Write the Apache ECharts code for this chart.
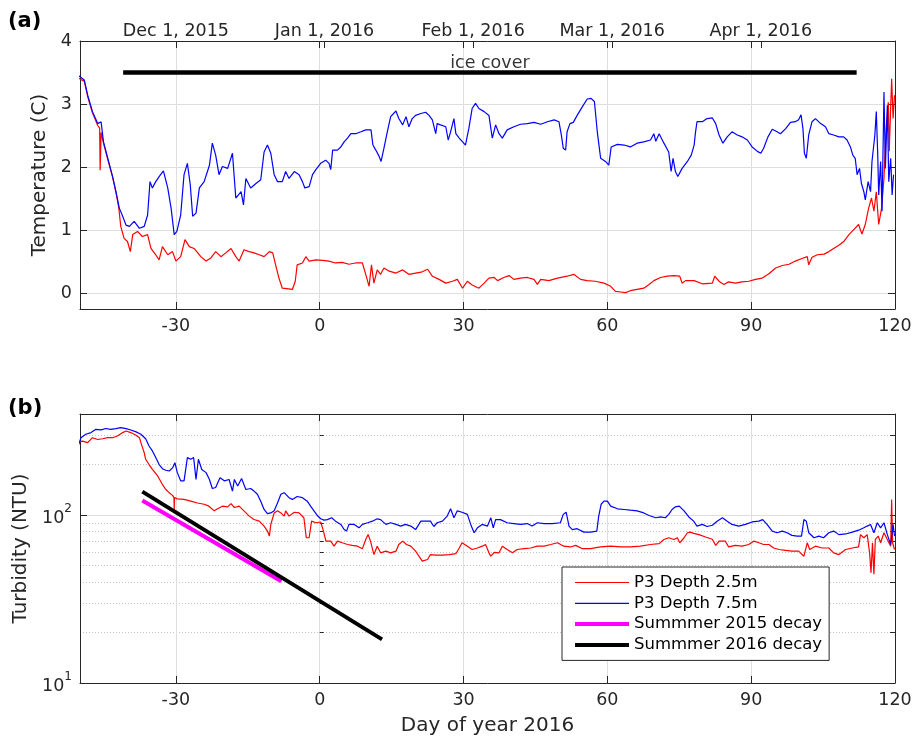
<!DOCTYPE html>
<html>
<head>
<meta charset="utf-8">
<script src="https://cdn.jsdelivr.net/npm/echarts@6/dist/echarts.min.js"></script>
<style>
  html, body { margin: 0; padding: 0; background: #ffffff; }
  #chart { width: 918px; height: 737px; }
</style>
</head>
<body>
<div id="chart"></div>
<script>
// Water temperature at P3, [day of year 2016, degrees C]
const temp25 = [
  [-50.5,3.42],[-49.1,3.36],[-48.4,3.12],[-47.4,2.86],[-46.3,2.66],[-45.9,2.62],[-45.8,1.95],[-45.6,2.55],
  [-45.1,2.38],[-44.2,2.12],[-43.2,1.84],[-42.5,1.60],[-41.9,1.35],[-41.5,1.06],[-40.8,0.87],[-40.1,0.82],
  [-39.5,0.66],[-39.0,0.93],[-38.0,0.98],[-37.0,0.90],[-35.9,0.93],[-35.2,0.71],[-34.2,0.61],[-33.5,0.53],
  [-32.8,0.74],[-31.7,0.61],[-30.7,0.66],[-30.0,0.51],[-29.0,0.58],[-28.1,0.85],[-27.2,0.74],[-26.2,0.71],
  [-24.8,0.58],[-23.7,0.51],[-22.7,0.56],[-21.7,0.66],[-20.6,0.58],[-19.6,0.64],[-18.5,0.71],[-17.5,0.58],
  [-16.8,0.51],[-15.8,0.69],[-14.7,0.66],[-13.7,0.64],[-12.6,0.61],[-11.6,0.58],[-10.5,0.66],[-9.8,0.64],
  [-9.2,0.45],[-8.5,0.24],[-7.8,0.08],[-6.5,0.07],[-5.7,0.06],[-5.1,0.19],[-4.7,0.45],[-3.6,0.48],
  [-2.9,0.58],[-2.2,0.51],[-0.8,0.53],[0.6,0.52],[1.9,0.51],[3.3,0.48],[4.7,0.49],[6.1,0.46],
  [7.5,0.48],[8.9,0.48],[9.6,0.30],[10.3,0.11],[10.8,0.45],[11.3,0.16],[12.0,0.37],[12.7,0.30],
  [13.4,0.40],[14.5,0.35],[15.9,0.32],[17.3,0.37],[18.6,0.30],[20.0,0.32],[21.4,0.34],[22.5,0.38],
  [23.5,0.27],[24.9,0.22],[26.3,0.16],[27.7,0.19],[28.7,0.22],[29.8,0.08],[30.8,0.19],[31.8,0.13],
  [33.2,0.08],[34.3,0.16],[35.3,0.24],[36.4,0.25],[37.1,0.20],[38.4,0.25],[39.5,0.28],[40.5,0.22],
  [41.9,0.24],[43.3,0.25],[44.7,0.22],[45.4,0.14],[46.1,0.22],[47.8,0.20],[49.6,0.24],[51.6,0.27],
  [53.0,0.30],[54.4,0.22],[55.8,0.20],[57.5,0.19],[59.3,0.16],[60.7,0.11],[61.7,0.03],[62.8,0.02],
  [63.8,0.01],[64.8,0.04],[66.2,0.06],[67.6,0.08],[68.7,0.14],[69.7,0.20],[71.1,0.25],[72.5,0.27],
  [73.9,0.28],[75.1,0.27],[75.6,0.16],[76.3,0.20],[78.1,0.20],[79.8,0.15],[81.9,0.16],[82.4,0.27],
  [83.3,0.19],[84.3,0.14],[85.3,0.18],[86.7,0.16],[88.1,0.18],[89.5,0.19],[90.9,0.22],[92.3,0.24],
  [93.7,0.31],[95.1,0.40],[96.5,0.44],[97.9,0.46],[99.2,0.51],[100.6,0.55],[101.7,0.58],[102.0,0.45],
  [102.7,0.57],[103.8,0.61],[105.2,0.62],[106.2,0.66],[107.2,0.71],[108.3,0.76],[109.3,0.82],[110.4,0.93],
  [111.4,1.01],[112.4,1.09],[113.1,0.94],[113.8,1.09],[114.5,1.35],[115.1,1.51],[115.6,1.30],[116.1,1.61],
  [116.6,1.09],[117.2,1.35],[117.7,1.82],[118.1,2.55],[118.6,3.03],[118.8,2.25],[119.3,3.40],[119.6,2.77],
  [119.9,3.14]
];
const temp75 = [
  [-50.5,3.46],[-49.1,3.38],[-48.4,3.14],[-47.4,2.88],[-46.3,2.69],[-45.6,2.72],[-45.1,2.40],[-44.2,2.14],
  [-43.2,1.85],[-42.5,1.61],[-41.8,1.35],[-41.1,1.22],[-40.4,1.08],[-39.7,1.06],[-38.7,1.14],[-37.6,1.03],
  [-36.6,1.06],[-35.9,1.24],[-35.4,1.77],[-34.9,1.67],[-34.2,1.77],[-33.5,1.85],[-32.6,1.94],[-31.7,1.67],
  [-31.0,1.35],[-30.35,0.93],[-29.8,0.98],[-29.0,1.24],[-28.3,1.88],[-27.6,2.06],[-27.0,1.72],[-26.5,1.22],
  [-25.8,1.27],[-25.1,1.67],[-24.1,1.77],[-23.0,2.03],[-22.4,2.38],[-21.7,2.19],[-21.0,1.88],[-20.3,2.01],
  [-19.2,1.98],[-18.2,2.22],[-17.5,1.51],[-16.4,1.61],[-15.9,1.40],[-15.4,1.82],[-14.4,1.67],[-13.3,1.74],
  [-12.3,1.80],[-11.6,2.24],[-10.9,2.35],[-10.2,2.22],[-9.5,1.88],[-8.8,1.77],[-7.8,1.77],[-7.1,1.93],
  [-6.4,1.82],[-5.3,1.93],[-4.3,1.88],[-3.6,1.77],[-3.1,1.67],[-2.2,1.69],[-1.5,1.88],[-0.8,1.96],
  [0.2,2.06],[1.25,2.11],[1.95,2.06],[2.3,1.96],[2.7,2.27],[3.7,2.27],[4.4,2.32],[5.1,2.40],
  [5.8,2.46],[6.5,2.53],[7.5,2.53],[8.6,2.56],[9.6,2.59],[10.7,2.59],[11.1,2.35],[11.7,2.27],
  [12.4,2.17],[12.8,2.09],[13.4,2.30],[14.1,2.56],[14.8,2.80],[15.9,2.89],[16.5,2.77],[17.3,2.67],
  [18.0,2.80],[18.6,2.64],[19.3,2.77],[20.0,2.82],[21.1,2.85],[22.1,2.87],[22.8,2.82],[23.5,2.75],
  [24.2,2.53],[24.5,2.69],[25.2,2.67],[26.3,2.64],[26.8,2.43],[27.3,2.56],[28.0,2.77],[28.4,2.53],
  [29.1,2.46],[29.8,2.40],[30.4,2.35],[31.1,2.61],[31.8,2.93],[32.5,3.01],[33.2,2.93],[34.3,2.88],
  [35.3,2.82],[35.7,2.82],[36.0,2.46],[36.7,2.67],[37.4,2.53],[38.1,2.46],[39.1,2.59],[40.5,2.64],
  [41.9,2.68],[43.3,2.69],[44.7,2.71],[46.1,2.68],[47.5,2.72],[48.9,2.75],[49.9,2.72],[50.4,2.51],
  [50.8,2.30],[51.3,2.27],[51.6,2.56],[52.2,2.69],[52.9,2.71],[53.7,2.82],[54.8,2.96],[55.8,3.08],
  [56.6,3.09],[57.3,3.04],[57.9,2.56],[58.6,2.14],[59.6,2.09],[60.3,2.03],[60.8,2.32],[62.1,2.36],
  [63.5,2.35],[64.8,2.32],[66.2,2.38],[67.6,2.40],[69.0,2.43],[69.7,2.53],[70.1,2.41],[70.8,2.53],
  [71.8,2.38],[72.8,2.24],[73.3,1.93],[73.7,2.14],[74.2,1.93],[74.7,1.85],[75.6,1.98],[76.7,2.09],
  [77.5,2.19],[78.1,2.35],[78.4,2.56],[78.7,2.72],[79.8,2.72],[80.8,2.77],[81.9,2.78],[82.6,2.69],
  [83.3,2.51],[84.1,2.38],[85.0,2.48],[86.0,2.56],[87.1,2.51],[88.1,2.48],[89.2,2.43],[90.2,2.32],
  [91.3,2.25],[92.0,2.22],[92.6,2.30],[93.5,2.48],[94.4,2.60],[95.4,2.56],[96.1,2.53],[97.2,2.61],
  [98.2,2.71],[99.2,2.72],[99.9,2.75],[100.4,2.83],[100.8,2.61],[101.1,2.22],[101.5,2.14],[102.0,2.51],
  [102.7,2.72],[103.4,2.77],[104.5,2.69],[105.5,2.64],[106.2,2.53],[107.2,2.51],[108.3,2.48],[109.3,2.48],
  [110.0,2.43],[110.7,2.32],[111.2,2.19],[111.7,2.14],[112.1,1.88],[112.6,1.98],[113.0,1.74],[113.5,1.61],
  [113.8,1.48],[114.4,1.77],[114.9,1.61],[115.2,2.09],[115.8,2.51],[116.1,2.88],[116.4,2.19],[116.6,1.56],
  [117.0,2.09],[117.3,1.30],[117.7,3.19],[118.0,1.98],[118.4,2.98],[118.7,1.77],[119.1,2.14],[119.4,1.56],
  [119.7,1.88]
];

// Turbidity at P3, [day of year 2016, NTU]
const turb25 = [
  [-50.5,270],[-49.5,276],[-48.4,270],[-47.4,289],[-46.3,282],[-45.3,285],[-44.2,289],[-43.2,289],
  [-42.2,296],[-41.1,310],[-40.4,317],[-39.4,310],[-38.3,299],[-37.6,289],[-37.3,270],[-36.9,264],
  [-36.6,235],[-36.3,215],[-35.6,200],[-34.9,187],[-33.8,171],[-32.8,152],[-32.1,142],[-31.4,136],
  [-30.7,131],[-30.4,127],[-30.35,106],[-30.3,127],[-29.7,125],[-28.3,124],[-26.9,121],[-25.5,118],
  [-24.1,116],[-23.1,113],[-22.0,106],[-21.3,109],[-20.3,113],[-19.2,112],[-18.5,117],[-17.8,111],
  [-16.8,113],[-15.8,106],[-14.7,98.6],[-13.7,94.2],[-12.6,92],[-11.6,85.9],[-10.9,80.3],[-10.5,75],
  [-10.2,87.9],[-9.5,103],[-8.8,106],[-8.1,103],[-7.4,98.6],[-7.1,106],[-6.4,98.6],[-5.3,104],
  [-4.3,103],[-3.3,96.4],[-2.8,73.3],[-2.2,73.3],[-1.7,92],[-0.8,90],[0.2,91],[0.7,82],
  [1.3,70],[2.3,70],[3.0,65.3],[3.7,70],[4.7,68.4],[5.8,66.8],[6.8,66],[7.9,65.3],
  [8.9,63.1],[9.6,71.6],[10.1,76.7],[10.6,70],[11.3,58.2],[12.0,65.3],[12.7,59.6],[13.8,61],
  [14.8,59.6],[15.9,61],[16.5,66.8],[17.3,70],[18.1,66.8],[19.0,65.3],[20.0,61],[20.7,56.9],
  [21.4,53.2],[22.5,54.4],[23.1,58.2],[24.2,57.8],[25.6,57.8],[27.0,58.2],[28.4,58.9],[29.1,63.7],
  [29.7,68.4],[30.8,65.3],[31.8,62.4],[32.9,63.7],[33.9,65.3],[34.6,66.8],[35.3,59.6],[35.7,56.9],
  [36.4,60],[37.4,59.6],[38.1,65.3],[39.1,62.4],[40.2,59.6],[41.2,62.4],[42.6,63.1],[44.0,63.7],
  [45.4,65.3],[46.8,65.3],[48.2,66.8],[49.6,68.4],[50.9,65.3],[52.3,64.6],[53.4,66],[54.8,63.1],
  [56.5,63.1],[58.6,64.6],[60.7,65.3],[62.8,64.6],[64.8,64.6],[66.9,65.3],[69.0,66.8],[70.8,67.6],
  [71.8,71.6],[72.8,73.3],[73.9,71.6],[74.6,73.3],[75.1,68.4],[76.0,73.3],[76.7,78.5],[77.3,79.2],
  [78.0,77.8],[79.1,76.5],[80.5,74],[81.9,71.8],[82.6,66],[83.3,70],[84.6,70],[85.3,64.6],
  [86.7,66],[88.1,65.3],[89.5,66.8],[90.6,70],[91.6,68.4],[92.6,66.8],[93.7,66.8],[94.7,63.7],
  [95.8,62.4],[97.2,61.7],[98.5,61],[99.9,61],[101.0,56.9],[101.7,68.4],[102.2,62.4],[103.4,65.3],
  [104.8,63.7],[106.2,63.7],[107.2,59.6],[108.3,58.2],[109.7,62.4],[111.1,63.7],[112.4,64.6],[112.8,76.5],
  [113.5,73.3],[114.2,76.5],[114.7,59.6],[115.0,45.3],[115.3,68.4],[115.6,44.4],[115.9,71.6],[116.5,75],
  [117.0,68.4],[117.7,78.5],[118.4,71.6],[119.1,65.3],[119.3,124],[119.5,68.4],[119.9,62.4]
];
const turb75 = [
  [-50.5,252],[-49.8,289],[-48.8,303],[-47.7,310],[-46.7,324],[-45.6,322],[-44.6,328],[-43.6,324],
  [-42.5,327],[-41.5,332],[-40.4,327],[-39.4,321],[-38.3,313],[-37.3,303],[-36.3,285],[-35.6,258],
  [-34.9,241],[-34.2,220],[-33.5,200],[-32.8,189],[-32.1,185],[-31.4,183],[-30.7,191],[-30.2,205],
  [-29.7,179],[-29.0,160],[-28.3,160],[-27.6,220],[-26.9,215],[-26.3,220],[-25.8,163],[-25.3,215],
  [-24.6,187],[-23.7,179],[-23.0,163],[-22.4,144],[-21.7,146],[-20.8,167],[-19.9,160],[-18.9,163],
  [-18.2,139],[-17.8,163],[-17.1,149],[-16.3,165],[-15.4,142],[-14.4,144],[-13.7,139],[-13.0,133],
  [-12.3,121],[-11.6,108],[-10.9,102],[-10.2,103],[-9.5,106],[-8.8,118],[-8.1,133],[-7.4,136],
  [-6.4,127],[-5.7,124],[-4.7,129],[-3.6,127],[-2.6,121],[-1.9,113],[-1.2,106],[-0.5,99.5],
  [0.2,95.1],[0.9,93.4],[1.6,94],[2.5,96.4],[3.3,92],[4.4,88],[5.1,82.1],[5.6,80.3],
  [6.1,88],[7.2,88],[8.2,84],[8.9,88],[10.0,90],[11.0,92],[12.0,95],[12.7,94],
  [13.8,88],[14.8,90],[15.9,88],[16.9,86],[17.9,88],[19.0,86],[20.0,82],[21.1,92],
  [22.1,92],[23.1,92],[23.8,85.5],[24.5,90],[25.6,92],[26.6,98.6],[27.3,109],[28.0,96.4],
  [28.7,106],[29.7,104],[30.8,101],[31.5,88],[32.2,78.5],[32.9,84],[33.9,88],[35.0,86],
  [35.7,96.4],[36.2,84],[36.7,94],[37.7,94],[39.1,90],[40.5,89],[41.9,88],[43.3,89],
  [44.3,86],[45.4,90],[46.8,89],[48.5,89],[50.2,90],[50.8,101],[51.4,104],[52.0,86],
  [52.7,82],[53.7,83],[55.1,79.2],[56.5,79.2],[57.8,80.3],[58.2,98.6],[58.7,116],[59.3,121],
  [60.0,121],[60.7,113],[62.1,109],[63.5,108],[64.8,107],[66.2,106],[67.6,103],[68.7,99.5],
  [70.1,96.4],[71.1,97.5],[72.1,96.4],[72.8,101],[73.5,108],[74.2,112],[75.0,113],[76.0,106],
  [77.0,97.5],[78.0,92],[78.7,86],[79.8,88],[80.8,85.5],[81.9,87],[82.9,92],[84.0,96.4],
  [85.0,92],[86.0,88],[87.4,86],[88.8,88],[90.2,91],[91.6,92],[92.4,94],[93.3,88],
  [94.4,80.3],[95.4,78.5],[96.5,80.3],[97.5,78.5],[98.5,75.7],[99.6,75],[100.5,75],[101.0,94],
  [101.5,92],[102.0,78.5],[103.1,73.3],[104.1,75],[105.1,73.3],[106.2,78.5],[107.2,80.3],[108.3,76.5],
  [109.7,77.2],[111.1,79.2],[112.4,81.3],[113.5,84],[114.2,86],[114.9,88],[115.6,78.5],[116.3,90],
  [117.0,84],[117.7,90],[118.4,76.5],[119.1,66.8],[119.6,88],[119.9,75]
];

// Fitted exponential decay lines, end points [day, NTU]
const decay2015 = [[-37, 122], [-8, 40.4]];
const decay2016 = [[-37, 138], [13, 18.2]];

// Ice cover period (days) drawn at this temperature level
const iceDays = [-41, 112];
const iceLevel = 3.5;

// Axis ticks and labels
const dayTicks = [-30, 0, 30, 60, 90, 120];
const dateTickDays = [-30, 1, 32, 61, 92];
const dateTickLabels = ['Dec 1, 2015', 'Jan 1, 2016', 'Feb 1, 2016', 'Mar 1, 2016', 'Apr 1, 2016'];
const tempTicks = [0, 1, 2, 3, 4];
const turbMajorTicks = [10, 100];
const turbMinorTicks = [20, 30, 40, 50, 60, 70, 80, 90, 200, 300];

const FONT = 'DejaVu Sans';
const INK = '#262626';
const GRID = '#dedede';
const THIN = 1.2;
const THICK = 4;

const chart = echarts.init(document.getElementById('chart'), null, { renderer: 'canvas' });

function axisBase(extra) {
  return Object.assign({
    axisLine: { show: true, onZero: false, lineStyle: { color: INK, width: 1 } },
    axisTick: { show: false },
    axisLabel: { show: false },
    splitLine: { show: false },
    minorTick: { show: false },
    minorSplitLine: { show: false }
  }, extra);
}
function ticks(values, len) {
  return { show: true, inside: true, length: len || 7, customValues: values, lineStyle: { color: INK, width: 1 } };
}
const tickLabel = { fontFamily: FONT, fontSize: 17.5, color: INK };

const iceBar = iceDays.map(d => [d, iceLevel]);
const iceMid = [[(iceDays[0] + iceDays[1]) / 2, iceLevel]];

const option = {
  animation: false,
  backgroundColor: '#ffffff',
  textStyle: { fontFamily: FONT },
  grid: [
    { left: 80, right: 23, top: 41, height: 268 },
    { left: 80, right: 23, top: 414, height: 269 }
  ],
  xAxis: [
    axisBase({
      gridIndex: 0, type: 'value', min: -50, max: 120, position: 'bottom',
      axisTick: ticks(dayTicks),
      axisLabel: Object.assign({ show: true, customValues: dayTicks, margin: 8 }, tickLabel),
      splitLine: { show: true, lineStyle: { color: GRID, width: 1 } }
    }),
    axisBase({
      gridIndex: 0, type: 'value', min: -50, max: 120, position: 'top',
      axisTick: ticks(dayTicks.concat(dateTickDays)),
      axisLabel: Object.assign({
        show: true, customValues: dateTickDays, margin: 1,
        formatter: v => dateTickLabels[dateTickDays.indexOf(v)]
      }, tickLabel)
    }),
    axisBase({
      gridIndex: 1, type: 'value', min: -50, max: 120, position: 'bottom',
      axisTick: ticks(dayTicks),
      axisLabel: Object.assign({ show: true, customValues: dayTicks, margin: 8 }, tickLabel),
      splitLine: { show: true, lineStyle: { color: GRID, width: 1 } },
      name: 'Day of year 2016', nameLocation: 'middle', nameGap: 33,
      nameTextStyle: { fontFamily: FONT, fontSize: 20, color: INK }
    }),
    axisBase({
      gridIndex: 1, type: 'value', min: -50, max: 120, position: 'top',
      axisTick: ticks(dayTicks)
    })
  ],
  yAxis: [
    axisBase({
      gridIndex: 0, type: 'value', min: -0.25, max: 4, position: 'left',
      axisTick: ticks(tempTicks),
      axisLabel: Object.assign({ show: true, customValues: tempTicks, margin: 8 }, tickLabel),
      splitLine: { show: true, lineStyle: { color: GRID, width: 1 } },
      name: 'Temperature (C)', nameLocation: 'middle', nameGap: 25,
      nameTextStyle: { fontFamily: FONT, fontSize: 20, color: INK }
    }),
    axisBase({
      gridIndex: 0, type: 'value', min: -0.25, max: 4, position: 'right',
      axisTick: ticks(tempTicks)
    }),
    axisBase({
      gridIndex: 1, type: 'log', logBase: 10, min: 10, max: 400, position: 'left',
      axisTick: ticks(turbMajorTicks),
      axisLabel: Object.assign({
        show: true, customValues: turbMajorTicks, margin: 8,
        formatter: v => '{b|10}{s|' + Math.round(Math.log10(v)) + '}',
        rich: {
          b: { fontFamily: FONT, fontSize: 17.5, color: INK, verticalAlign: 'bottom', lineHeight: 24 },
          s: { fontFamily: FONT, fontSize: 12, color: INK, verticalAlign: 'top', lineHeight: 24 }
        }
      }, tickLabel),
      splitLine: { show: true, lineStyle: { color: GRID, width: 1 } },
      name: 'Turbidity (NTU)', nameLocation: 'middle', nameGap: 43,
      nameTextStyle: { fontFamily: FONT, fontSize: 20, color: INK }
    }),
    axisBase({
      gridIndex: 1, type: 'log', logBase: 10, min: 10, max: 400, position: 'left',
      axisLine: { show: false },
      axisTick: ticks(turbMinorTicks, 4),
      splitLine: { show: true, lineStyle: { color: '#c4c4c4', width: 1, type: [1, 2] } }
    }),
    axisBase({
      gridIndex: 1, type: 'log', logBase: 10, min: 10, max: 400, position: 'right',
      axisTick: ticks(turbMajorTicks.concat(turbMinorTicks), 5)
    })
  ],
  legend: {
    data: [
      { name: 'P3 Depth 2.5m', lineStyle: { width: THIN } },
      { name: 'P3 Depth 7.5m', lineStyle: { width: THIN } },
      { name: 'Summmer 2015 decay', lineStyle: { width: THICK } },
      { name: 'Summmer 2016 decay', lineStyle: { width: THICK } }
    ],
    orient: 'vertical', left: 562, top: 567,
    itemWidth: 54, itemHeight: 14, itemGap: 3.8,
    padding: [7, 7, 7, 11],
    itemStyle: { opacity: 0 },
    backgroundColor: '#ffffff', borderColor: INK, borderWidth: 1, borderRadius: 0,
    selectedMode: false,
    textStyle: { fontFamily: FONT, fontSize: 16.5, color: '#000000' }
  },
  graphic: [
    { type: 'text', left: 8, top: 11, style: { text: '(a)', font: 'bold 21px "DejaVu Sans"', fill: '#000' } },
    { type: 'text', left: 8, top: 398, style: { text: '(b)', font: 'bold 21px "DejaVu Sans"', fill: '#000' } }
  ],
  series: [
    {
      name: 'P3 Depth 2.5m', type: 'line', xAxisIndex: 0, yAxisIndex: 0, data: temp25,
      symbol: 'none', showSymbol: false, color: '#ff0000',
      lineStyle: { color: '#ff0000', width: THIN }, z: 3
    },
    {
      name: 'P3 Depth 7.5m', type: 'line', xAxisIndex: 0, yAxisIndex: 0, data: temp75,
      symbol: 'none', showSymbol: false, color: '#0000ff',
      lineStyle: { color: '#0000ff', width: THIN }, z: 4
    },
    {
      name: 'ice cover', type: 'line', xAxisIndex: 0, yAxisIndex: 0, data: iceBar,
      symbol: 'none', showSymbol: false, color: '#000000',
      lineStyle: { color: '#000000', width: 4.5 }, z: 5
    },
    {
      name: 'ice cover label', type: 'scatter', xAxisIndex: 0, yAxisIndex: 0, data: iceMid,
      symbolSize: 0, silent: true, z: 6,
      label: {
        show: true, position: 'top', distance: 0, formatter: 'ice cover',
        fontFamily: FONT, fontSize: 17.5, color: '#000000'
      }
    },
    {
      name: 'P3 Depth 2.5m', type: 'line', xAxisIndex: 2, yAxisIndex: 2, data: turb25,
      symbol: 'none', showSymbol: false, color: '#ff0000',
      lineStyle: { color: '#ff0000', width: THIN }, z: 3
    },
    {
      name: 'P3 Depth 7.5m', type: 'line', xAxisIndex: 2, yAxisIndex: 2, data: turb75,
      symbol: 'none', showSymbol: false, color: '#0000ff',
      lineStyle: { color: '#0000ff', width: THIN }, z: 4
    },
    {
      name: 'Summmer 2015 decay', type: 'line', xAxisIndex: 2, yAxisIndex: 2, data: decay2015,
      symbol: 'none', showSymbol: false, color: '#ff00ff',
      lineStyle: { color: '#ff00ff', width: THICK }, z: 5
    },
    {
      name: 'Summmer 2016 decay', type: 'line', xAxisIndex: 2, yAxisIndex: 2, data: decay2016,
      symbol: 'none', showSymbol: false, color: '#000000',
      lineStyle: { color: '#000000', width: THICK }, z: 6
    }
  ]
};

chart.setOption(option);
</script>
</body>
</html>
